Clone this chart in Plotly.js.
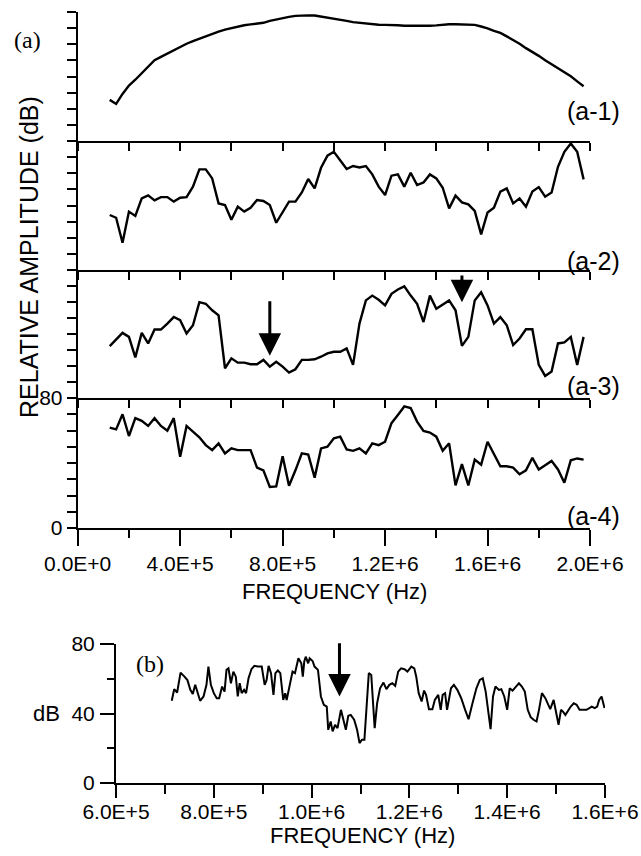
<!DOCTYPE html>
<html>
<head>
<meta charset="utf-8">
<script src="https://cdn.plot.ly/plotly-3.0.1.min.js"></script>
<style>html,body{margin:0;padding:0;background:#fff;}#chart{width:641px;height:856px;}</style>
</head>
<body>
<div id="chart"></div>
<script>
// ---------- Panel (a): frequency grid (Hz) ----------
const freqA = [125e3,150e3,175e3,200e3,225e3,250e3,275e3,300e3,325e3,350e3,375e3,400e3,425e3,450e3,475e3,500e3,525e3,550e3,575e3,600e3,625e3,650e3,675e3,700e3,725e3,750e3,775e3,800e3,825e3,850e3,875e3,900e3,925e3,950e3,975e3,1000e3,1025e3,1050e3,1075e3,1100e3,1125e3,1150e3,1175e3,1200e3,1225e3,1250e3,1275e3,1300e3,1325e3,1350e3,1375e3,1400e3,1425e3,1450e3,1475e3,1500e3,1525e3,1550e3,1575e3,1600e3,1625e3,1650e3,1675e3,1700e3,1725e3,1750e3,1775e3,1800e3,1825e3,1850e3,1875e3,1900e3,1925e3,1950e3,1975e3];

// (a-1) relative amplitude (dB)
const ampA1 = [25.5,23.0,29.2,34.4,38.0,42.2,45.9,50.1,52.2,54.3,56.4,58.5,60.3,62.0,63.5,64.9,66.6,67.8,69.1,70.1,70.8,71.8,72.3,72.7,73.3,74.5,75.4,76.2,77.0,77.6,77.9,77.9,77.8,77.2,76.6,76.0,75.2,74.5,73.7,73.2,72.8,72.4,72.1,72.0,72.0,71.8,71.5,71.4,71.4,71.4,71.5,71.7,72.1,72.4,72.4,72.4,72.4,72.0,71.0,69.9,68.3,67.0,64.9,62.8,60.3,57.6,55.3,52.8,50.1,47.6,45.1,43.0,40.1,37.0,34.0];

// (a-2)
const ampA2 = [34.1,32.4,16.9,36.2,33.5,44.4,46.3,43.2,45.2,45.2,42.4,44.8,45.2,51.7,62.4,62.4,56.8,41.3,40.3,31.2,39.3,36.2,38.6,43.4,42.8,40.3,29.3,35.7,42.4,42.4,48.1,56.4,50.6,63.4,70.9,73.3,68.0,62.6,64.5,63.6,64.5,59.3,51.7,46.5,58.5,59.3,51.7,60.3,52.7,54.3,59.3,56.8,51.0,38.2,46.1,41.9,40.7,36.6,22.1,35.7,38.6,48.6,50.6,41.3,44.4,39.3,48.6,51.4,45.5,48.1,64.0,73.3,78.5,73.3,56.2];

// (a-3)
const ampA3 = [32.4,36.8,40.7,38.2,25.4,40.7,34.1,42.8,42.8,46.5,50.6,48.6,40.3,45.5,59.9,58.9,54.8,51.7,18.6,24.8,22.1,22.1,21.1,21.1,23.8,19.6,22.7,19.6,15.9,18.0,23.8,23.8,24.2,25.8,27.9,28.9,28.9,31.0,20.7,46.5,61.0,64.0,61.4,57.9,65.1,67.8,69.8,64.0,58.9,47.5,64.0,55.8,58.3,61.0,54.8,32.6,38.2,61.0,66.1,57.9,46.5,50.6,45.5,33.1,37.2,43.0,43.0,20.7,13.8,16.5,34.1,34.7,38.2,20.7,38.2];

// (a-4)
const ampA4 = [61.8,60.7,70.0,56.6,67.6,65.9,62.8,67.6,62.8,59.9,67.6,43.8,62.8,59.3,55.8,51.0,47.9,52.1,45.9,49.0,47.9,47.9,47.9,37.2,35.5,25.2,25.6,44.2,26.0,35.5,45.9,45.2,31.0,49.0,50.0,55.2,56.2,48.3,47.5,49.0,45.9,52.1,51.0,53.1,64.5,69.6,74.8,73.8,65.5,59.7,58.7,56.2,47.5,52.1,26.2,39.3,26.2,42.1,39.0,53.1,45.5,38.0,38.0,37.2,33.1,35.5,43.2,36.0,38.6,41.3,36.0,27.9,41.7,42.8,42.1];

// ---------- Panel (b) ----------
const freqB = [714e3,719e3,725e3,732e3,740e3,746e3,752e3,757e3,762e3,767e3,772e3,779e3,785e3,789e3,794e3,800e3,806e3,811e3,817e3,822e3,826e3,830e3,835e3,840e3,845e3,849e3,853e3,857e3,862e3,866e3,871e3,877e3,883e3,890e3,898e3,904e3,908e3,912e3,917e3,922e3,926e3,931e3,936e3,942e3,946e3,949e3,956e3,961e3,966e3,970e3,973e3,979e3,982e3,985e3,988e3,993e3,996e3,1002e3,1006e3,1013e3,1019e3,1025e3,1031e3,1034e3,1039e3,1043e3,1048e3,1053e3,1060e3,1065e3,1070e3,1075e3,1080e3,1087e3,1093e3,1098e3,1103e3,1108e3,1113e3,1117e3,1122e3,1129e3,1134e3,1140e3,1147e3,1153e3,1159e3,1165e3,1171e3,1177e3,1183e3,1190e3,1196e3,1204e3,1210e3,1214e3,1219e3,1225e3,1230e3,1234e3,1240e3,1247e3,1252e3,1259e3,1264e3,1268e3,1273e3,1277e3,1285e3,1291e3,1298e3,1306e3,1314e3,1321e3,1329e3,1337e3,1344e3,1350e3,1356e3,1361e3,1366e3,1371e3,1376e3,1383e3,1388e3,1394e3,1400e3,1405e3,1411e3,1418e3,1424e3,1430e3,1436e3,1442e3,1448e3,1454e3,1460e3,1465e3,1471e3,1478e3,1484e3,1488e3,1495e3,1499e3,1505e3,1510e3,1514e3,1519e3,1525e3,1530e3,1536e3,1542e3,1548e3,1556e3,1562e3,1568e3,1573e3,1579e3,1584e3,1588e3,1593e3,1599e3];
const ampB = [47.3,54.0,52.1,63.5,61.2,59.3,53.6,51.3,56.5,51.7,47.3,49.8,56.5,67.0,56.5,51.7,48.8,48.8,55.5,52.6,65.1,66.0,57.4,64.1,61.2,49.8,57.4,51.7,53.6,51.7,60.3,65.5,67.4,67.0,67.0,56.5,59.3,67.4,63.2,50.7,63.2,64.7,63.2,47.8,51.7,47.8,58.4,64.1,63.2,68.9,71.8,68.9,61.2,69.9,72.7,68.9,71.8,70.2,67.0,65.1,49.8,45.0,44.0,30.6,35.4,29.7,33.5,31.6,42.1,36.4,30.6,38.7,39.2,36.4,30.6,23.0,24.9,24.9,49.8,63.2,62.2,31.6,45.9,54.5,57.8,54.0,56.5,57.4,55.9,64.1,66.0,65.5,64.1,67.0,66.0,61.2,51.7,46.9,53.2,50.7,42.5,42.5,47.8,50.7,42.1,50.7,51.7,42.1,54.5,56.5,53.6,48.8,42.1,36.7,45.9,54.5,59.3,60.3,52.6,43.1,31.0,49.8,55.5,53.6,54.0,49.8,42.1,54.5,53.2,55.5,57.4,55.5,52.6,42.1,37.9,36.4,35.4,42.1,51.7,48.8,45.0,42.5,47.8,42.1,33.5,42.1,41.1,39.2,42.1,44.0,45.9,45.0,42.1,42.1,42.1,43.1,44.0,43.1,44.0,47.8,49.8,43.1];

// ---------- Tick labels ----------
const tickValsA = [0, 4e5, 8e5, 1.2e6, 1.6e6, 2.0e6];
const tickTextA = ['0.0E+0','4.0E+5','8.0E+5','1.2E+6','1.6E+6','2.0E+6'];
const minorValsA = [0,2e5,4e5,6e5,8e5,1e6,1.2e6,1.4e6,1.6e6,1.8e6,2e6];
const tickValsB = [6e5, 8e5, 1.0e6, 1.2e6, 1.4e6, 1.6e6];
const tickTextB = ['6.0E+5','8.0E+5','1.0E+6','1.2E+6','1.4E+6','1.6E+6'];
const minorValsB = [6e5,7e5,8e5,9e5,1e6,1.1e6,1.2e6,1.3e6,1.4e6,1.5e6,1.6e6];
const yTickValsA = [0,10,20,30,40,50,60,70,80];
const yTickTextA4 = ['0','','','','','','','','80'];
const yTickValsB = [0,40,80];
const yTickTextB = ['0','40','80'];
const yMinorValsB = [0,20,40,60,80];

// ---------- Layout helpers ----------
const W = 641, H = 856;
const px = v => v / W;
const py = v => 1 - v / H;
const FONT = 'Liberation Sans, Arial, Helvetica, sans-serif';
const SERIF = 'Liberation Serif, Times New Roman, serif';

const xA0 = px(77.7), xA1 = px(590);
const yTop = [12, 141, 270, 398, 528]; // a-1 top ... a-4 bottom

function yDom(topPx, botPx){ return [py(botPx), py(topPx)]; }

const lineStyle = {color:'#000', width:2.4};

const traces = [
  {x:freqA, y:ampA4, xaxis:'x',  yaxis:'y',  mode:'lines', line:lineStyle, hoverinfo:'skip'},
  {x:freqA, y:ampA3, xaxis:'x2', yaxis:'y2', mode:'lines', line:lineStyle, hoverinfo:'skip'},
  {x:freqA, y:ampA2, xaxis:'x3', yaxis:'y3', mode:'lines', line:lineStyle, hoverinfo:'skip'},
  {x:freqA, y:ampA1, xaxis:'x4', yaxis:'y4', mode:'lines', line:lineStyle, hoverinfo:'skip'},
  {x:freqB, y:ampB,  xaxis:'x5', yaxis:'y5', mode:'lines', line:{color:'#000', width:2}, hoverinfo:'skip'}
];

const baseX = {
  range:[0,2e6], domain:[xA0,xA1], showgrid:false, zeroline:false,
  showline:true, linecolor:'#000', linewidth:2,
  ticks:'outside', tickcolor:'#000', tickwidth:2, ticklen:8,
  tickmode:'array', tickvals:minorValsA, showticklabels:false, fixedrange:true
};
const baseY = {
  range:[0,80], showgrid:false, zeroline:false,
  showline:true, linecolor:'#000', linewidth:2,
  ticks:'outside', tickcolor:'#000', tickwidth:2, ticklen:9,
  tickmode:'array', tickvals:yTickValsA, showticklabels:false, fixedrange:true
};

const layout = {
  width:W, height:H, margin:{l:0,r:0,t:0,b:0},
  paper_bgcolor:'#fff', plot_bgcolor:'rgba(0,0,0,0)',
  showlegend:false,
  font:{family:FONT, color:'#000', size:21},
  // a-4 (bottom, labelled)
  xaxis: Object.assign({}, baseX, {
    anchor:'y', tickvals:tickValsA, ticktext:tickTextA, showticklabels:true, ticklen:16,
    tickfont:{family:FONT, size:21, color:'#000'},
    minor:{tickmode:'array', tickvals:minorValsA, ticks:'outside', ticklen:8, tickwidth:2, tickcolor:'#000'}
  }),
  yaxis: Object.assign({}, baseY, {
    anchor:'x', domain:yDom(yTop[3], yTop[4]),
    ticktext:yTickTextA4, showticklabels:true, tickfont:{family:FONT, size:21, color:'#000'}
  }),
  // a-3
  xaxis2: Object.assign({}, baseX, {anchor:'y2'}),
  yaxis2: Object.assign({}, baseY, {anchor:'x2', domain:yDom(yTop[2], yTop[3])}),
  // a-2
  xaxis3: Object.assign({}, baseX, {anchor:'y3'}),
  yaxis3: Object.assign({}, baseY, {anchor:'x3', domain:yDom(yTop[1], yTop[2])}),
  // a-1
  xaxis4: Object.assign({}, baseX, {anchor:'y4'}),
  yaxis4: Object.assign({}, baseY, {anchor:'x4', domain:yDom(yTop[0], yTop[1])}),
  // panel b
  xaxis5: {
    anchor:'y5', domain:[px(116), px(605)], range:[6e5,1.6e6],
    showgrid:false, zeroline:false, showline:true, linecolor:'#000', linewidth:2,
    ticks:'outside', tickcolor:'#000', tickwidth:2, ticklen:13,
    ticklabelstandoff:-4,
    tickmode:'array', tickvals:tickValsB, ticktext:tickTextB,
    tickfont:{family:FONT, size:21, color:'#000'},
    minor:{tickmode:'array', tickvals:minorValsB, ticks:'outside', ticklen:9, tickwidth:2, tickcolor:'#000'},
    fixedrange:true
  },
  yaxis5: {
    anchor:'x5', domain:yDom(644, 783), range:[0,80],
    showgrid:false, zeroline:false, showline:true, linecolor:'#000', linewidth:2,
    ticks:'outside', tickcolor:'#000', tickwidth:2, ticklen:14,
    ticklabelstandoff:1,
    tickmode:'array', tickvals:yTickValsB, ticktext:yTickTextB,
    tickfont:{family:FONT, size:21, color:'#000'},
    minor:{tickmode:'array', tickvals:yMinorValsB, ticks:'outside', ticklen:7, tickwidth:2, tickcolor:'#000'},
    fixedrange:true
  },
  annotations:[
    // arrows
    {xref:'x2', yref:'y2', axref:'x2', ayref:'y2', x:7.5e5, y:26.4, ax:7.5e5, ay:61.4,
     showarrow:true, arrowhead:2, arrowsize:1.5, arrowwidth:3, arrowcolor:'#000', text:'', standoff:0},
    {xref:'x2', yref:'y2', axref:'x2', ayref:'y2', x:1.5e6, y:59.9, ax:1.5e6, ay:77.5,
     showarrow:true, arrowhead:2, arrowsize:1.5, arrowwidth:3, arrowcolor:'#000', text:'', standoff:0},
    {xref:'x5', yref:'y5', axref:'x5', ayref:'y5', x:1.057e6, y:49.8, ax:1.057e6, ay:81.3,
     showarrow:true, arrowhead:2, arrowsize:1.5, arrowwidth:3, arrowcolor:'#000', text:'', standoff:0},
    // panel labels
    {xref:'paper', yref:'paper', x:px(27), y:py(40), text:'(a)', showarrow:false,
     font:{family:SERIF, size:24, color:'#000'}, xanchor:'center', yanchor:'middle'},
    {xref:'paper', yref:'paper', x:px(150), y:py(664), text:'(b)', showarrow:false,
     font:{family:SERIF, size:24, color:'#000'}, xanchor:'center', yanchor:'middle'},
    {xref:'paper', yref:'paper', x:px(622), y:py(111), text:'(a-1)', showarrow:false,
     font:{family:FONT, size:25, color:'#000'}, xanchor:'right', yanchor:'middle'},
    {xref:'paper', yref:'paper', x:px(622), y:py(261), text:'(a-2)', showarrow:false,
     font:{family:FONT, size:25, color:'#000'}, xanchor:'right', yanchor:'middle'},
    {xref:'paper', yref:'paper', x:px(622), y:py(386), text:'(a-3)', showarrow:false,
     font:{family:FONT, size:25, color:'#000'}, xanchor:'right', yanchor:'middle'},
    {xref:'paper', yref:'paper', x:px(622), y:py(516), text:'(a-4)', showarrow:false,
     font:{family:FONT, size:25, color:'#000'}, xanchor:'right', yanchor:'middle'},
    // axis titles
    {xref:'paper', yref:'paper', x:px(29), y:py(257), text:'RELATIVE AMPLITUDE (dB)', showarrow:false,
     textangle:-90, font:{family:FONT, size:25, color:'#000'}, xanchor:'center', yanchor:'middle'},
    {xref:'paper', yref:'paper', x:px(334), y:py(591), text:'FREQUENCY (Hz)', showarrow:false,
     font:{family:FONT, size:22, color:'#000'}, xanchor:'center', yanchor:'middle'},
    {xref:'paper', yref:'paper', x:px(362), y:py(835), text:'FREQUENCY (Hz)', showarrow:false,
     font:{family:FONT, size:22, color:'#000'}, xanchor:'center', yanchor:'middle'},
    {xref:'paper', yref:'paper', x:px(46), y:py(713), text:'dB', showarrow:false,
     font:{family:FONT, size:22, color:'#000'}, xanchor:'center', yanchor:'middle'}
  ]
};

Plotly.newPlot('chart', traces, layout, {staticPlot:true, displayModeBar:false});
</script>
</body>
</html>
